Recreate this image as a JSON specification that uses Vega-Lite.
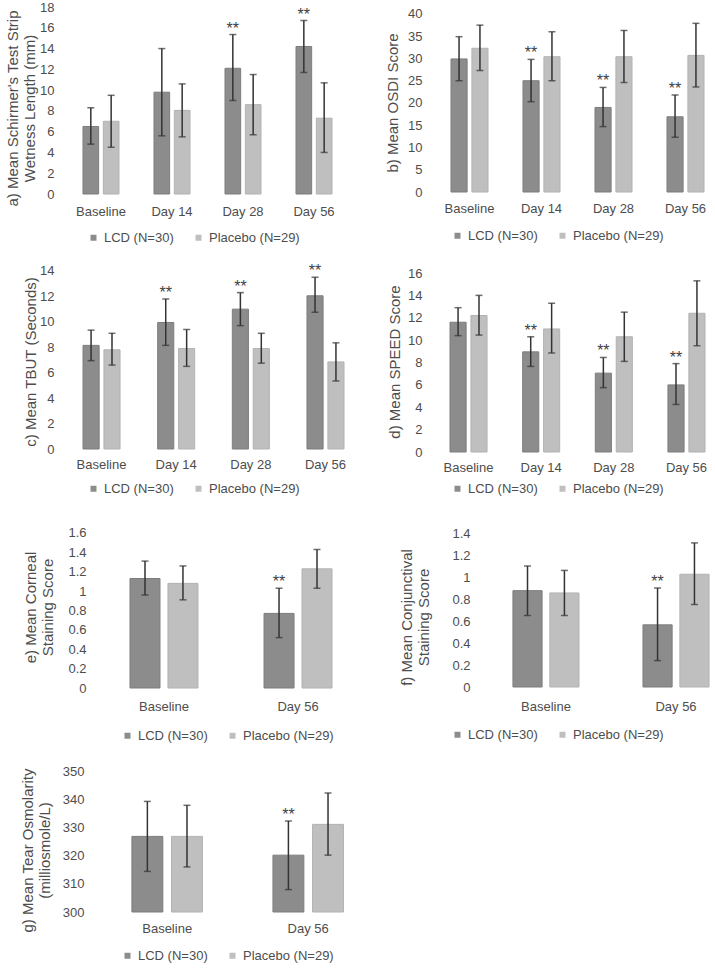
{
  "$schema": "https://vega.github.io/schema/vega-lite/v6.json",
  "padding": {"left": 5, "top": 0, "right": 0, "bottom": 0},
  "background": "white",
  "datasets": {
    "a": [
      {"t": "Baseline", "g": "LCD (N=30)", "m": 6.5, "lo": 4.8, "hi": 8.3, "sig": ""},
      {"t": "Baseline", "g": "Placebo (N=29)", "m": 7.0, "lo": 4.5, "hi": 9.5, "sig": ""},
      {"t": "Day 14", "g": "LCD (N=30)", "m": 9.8, "lo": 5.6, "hi": 14.0, "sig": ""},
      {"t": "Day 14", "g": "Placebo (N=29)", "m": 8.05, "lo": 5.5, "hi": 10.6, "sig": ""},
      {"t": "Day 28", "g": "LCD (N=30)", "m": 12.1, "lo": 9.0, "hi": 15.35, "sig": "**"},
      {"t": "Day 28", "g": "Placebo (N=29)", "m": 8.6, "lo": 5.7, "hi": 11.5, "sig": ""},
      {"t": "Day 56", "g": "LCD (N=30)", "m": 14.2, "lo": 11.7, "hi": 16.7, "sig": "**"},
      {"t": "Day 56", "g": "Placebo (N=29)", "m": 7.3, "lo": 4.0, "hi": 10.7, "sig": ""}
    ],
    "b": [
      {"t": "Baseline", "g": "LCD (N=30)", "m": 29.9, "lo": 25.0, "hi": 34.9, "sig": ""},
      {"t": "Baseline", "g": "Placebo (N=29)", "m": 32.3, "lo": 27.3, "hi": 37.5, "sig": ""},
      {"t": "Day 14", "g": "LCD (N=30)", "m": 25.0, "lo": 20.3, "hi": 29.8, "sig": "**"},
      {"t": "Day 14", "g": "Placebo (N=29)", "m": 30.4, "lo": 25.0, "hi": 36.0, "sig": ""},
      {"t": "Day 28", "g": "LCD (N=30)", "m": 19.0, "lo": 14.7, "hi": 23.5, "sig": "**"},
      {"t": "Day 28", "g": "Placebo (N=29)", "m": 30.4, "lo": 24.6, "hi": 36.3, "sig": ""},
      {"t": "Day 56", "g": "LCD (N=30)", "m": 16.9, "lo": 12.3, "hi": 21.8, "sig": "**"},
      {"t": "Day 56", "g": "Placebo (N=29)", "m": 30.7, "lo": 23.6, "hi": 37.9, "sig": ""}
    ],
    "c": [
      {"t": "Baseline", "g": "LCD (N=30)", "m": 8.15, "lo": 6.95, "hi": 9.35, "sig": ""},
      {"t": "Baseline", "g": "Placebo (N=29)", "m": 7.8, "lo": 6.6, "hi": 9.1, "sig": ""},
      {"t": "Day 14", "g": "LCD (N=30)", "m": 9.95, "lo": 8.15, "hi": 11.8, "sig": "**"},
      {"t": "Day 14", "g": "Placebo (N=29)", "m": 7.9, "lo": 6.5, "hi": 9.4, "sig": ""},
      {"t": "Day 28", "g": "LCD (N=30)", "m": 11.0, "lo": 9.7, "hi": 12.3, "sig": "**"},
      {"t": "Day 28", "g": "Placebo (N=29)", "m": 7.9, "lo": 6.75, "hi": 9.1, "sig": ""},
      {"t": "Day 56", "g": "LCD (N=30)", "m": 12.05, "lo": 10.75, "hi": 13.5, "sig": "**"},
      {"t": "Day 56", "g": "Placebo (N=29)", "m": 6.85, "lo": 5.35, "hi": 8.35, "sig": ""}
    ],
    "d": [
      {"t": "Baseline", "g": "LCD (N=30)", "m": 11.6, "lo": 10.4, "hi": 12.9, "sig": ""},
      {"t": "Baseline", "g": "Placebo (N=29)", "m": 12.2, "lo": 10.45, "hi": 14.0, "sig": ""},
      {"t": "Day 14", "g": "LCD (N=30)", "m": 8.95, "lo": 7.65, "hi": 10.3, "sig": "**"},
      {"t": "Day 14", "g": "Placebo (N=29)", "m": 11.0, "lo": 8.85, "hi": 13.3, "sig": ""},
      {"t": "Day 28", "g": "LCD (N=30)", "m": 7.05, "lo": 5.75, "hi": 8.45, "sig": "**"},
      {"t": "Day 28", "g": "Placebo (N=29)", "m": 10.3, "lo": 8.1, "hi": 12.5, "sig": ""},
      {"t": "Day 56", "g": "LCD (N=30)", "m": 6.0, "lo": 4.25, "hi": 7.9, "sig": "**"},
      {"t": "Day 56", "g": "Placebo (N=29)", "m": 12.4, "lo": 9.5, "hi": 15.3, "sig": ""}
    ],
    "e": [
      {"t": "Baseline", "g": "LCD (N=30)", "m": 1.13, "lo": 0.96, "hi": 1.31, "sig": ""},
      {"t": "Baseline", "g": "Placebo (N=29)", "m": 1.08, "lo": 0.91, "hi": 1.26, "sig": ""},
      {"t": "Day 56", "g": "LCD (N=30)", "m": 0.77, "lo": 0.52, "hi": 1.03, "sig": "**"},
      {"t": "Day 56", "g": "Placebo (N=29)", "m": 1.23, "lo": 1.03, "hi": 1.43, "sig": ""}
    ],
    "f": [
      {"t": "Baseline", "g": "LCD (N=30)", "m": 0.876, "lo": 0.65, "hi": 1.1, "sig": ""},
      {"t": "Baseline", "g": "Placebo (N=29)", "m": 0.855, "lo": 0.65, "hi": 1.06, "sig": ""},
      {"t": "Day 56", "g": "LCD (N=30)", "m": 0.565, "lo": 0.24, "hi": 0.9, "sig": "**"},
      {"t": "Day 56", "g": "Placebo (N=29)", "m": 1.025, "lo": 0.75, "hi": 1.31, "sig": ""}
    ],
    "g": [
      {"t": "Baseline", "g": "LCD (N=30)", "m": 327.0, "lo": 314.5, "hi": 339.5, "sig": ""},
      {"t": "Baseline", "g": "Placebo (N=29)", "m": 327.0, "lo": 316.1, "hi": 338.1, "sig": ""},
      {"t": "Day 56", "g": "LCD (N=30)", "m": 320.3, "lo": 308.0, "hi": 332.5, "sig": "**"},
      {"t": "Day 56", "g": "Placebo (N=29)", "m": 331.3, "lo": 320.3, "hi": 342.5, "sig": ""}
    ]
  },
  "resolve": {"scale": {"color": "independent", "stroke": "independent", "xOffset": "independent"}, "legend": {"color": "independent"}},
  "spacing": 39,
  "hconcat": [
    {
      "spacing": 12,
      "resolve": {"scale": {"color": "independent", "stroke": "independent", "xOffset": "independent"}, "legend": {"color": "independent"}},
      "vconcat": [
        {
          "width": 276, "height": 194,
          "data": {"name": "a"},
          "encoding": {
            "x": {"field": "t", "type": "nominal", "sort": ["Baseline", "Day 14", "Day 28", "Day 56"], "scale": {"paddingInner": 0.493, "paddingOuter": 0.19, "align": 0.926}, "axis": {"title": null, "labelAngle": 0, "labelPadding": 11}},
            "xOffset": {"field": "g", "type": "nominal", "scale": {"paddingInner": 0.23}}
          },
          "layer": [
            {"mark": {"type": "bar", "strokeWidth": 1}, "encoding": {
              "y": {"field": "m", "type": "quantitative", "title": ["a) Mean Schirmer's Test Strip", "Wetness Length (mm)"], "scale": {"domain": [0, 18.674], "nice": false}, "axis": {"values": [0, 2, 4, 6, 8, 10, 12, 14, 16, 18], "format": "d", "tickCount": 30, "labelOverlap": false, "titlePadding": 2, "titleY": 108}},
              "color": {"field": "g", "type": "nominal", "scale": {"range": ["#8c8c8c", "#bfbfbf"]}, "legend": {"title": null, "orient": "none", "direction": "horizontal", "legendX": 29, "legendY": 231}},
              "stroke": {"field": "g", "type": "nominal", "scale": {"range": ["#7d7d7d", "#b2b2b2"]}, "legend": null}}},
            {"mark": {"type": "rule", "color": "#333333", "strokeWidth": 1.5}, "encoding": {"y": {"field": "lo", "type": "quantitative", "title": ["a) Mean Schirmer's Test Strip", "Wetness Length (mm)"], "scale": {"domain": [0, 18.674], "nice": false}}, "y2": {"field": "hi"}}},
            {"mark": {"type": "tick", "color": "#333333", "thickness": 1.5, "size": 7}, "encoding": {"y": {"field": "lo", "type": "quantitative", "title": ["a) Mean Schirmer's Test Strip", "Wetness Length (mm)"], "scale": {"domain": [0, 18.674], "nice": false}}}},
            {"mark": {"type": "tick", "color": "#333333", "thickness": 1.5, "size": 7}, "encoding": {"y": {"field": "hi", "type": "quantitative", "title": ["a) Mean Schirmer's Test Strip", "Wetness Length (mm)"], "scale": {"domain": [0, 18.674], "nice": false}}}},
            {"mark": {"type": "text", "dy": -1, "baseline": "alphabetic", "fontSize": 16, "color": "#404040"}, "encoding": {"y": {"field": "hi", "type": "quantitative", "title": ["a) Mean Schirmer's Test Strip", "Wetness Length (mm)"], "scale": {"domain": [0, 18.674], "nice": false}}, "text": {"field": "sig"}}}
          ]
        },
        {
          "width": 288, "height": 192,
          "data": {"name": "c"},
          "encoding": {
            "x": {"field": "t", "type": "nominal", "sort": ["Baseline", "Day 14", "Day 28", "Day 56"], "scale": {"paddingInner": 0.504, "paddingOuter": 0.181, "align": 0.926}, "axis": {"title": null, "labelAngle": 0, "labelPadding": 9}},
            "xOffset": {"field": "g", "type": "nominal", "scale": {"paddingInner": 0.23}}
          },
          "layer": [
            {"mark": {"type": "bar", "strokeWidth": 1}, "encoding": {
              "y": {"field": "m", "type": "quantitative", "title": "c) Mean TBUT (Seconds)", "scale": {"domain": [0, 15.101], "nice": false}, "axis": {"values": [0, 2, 4, 6, 8, 10, 12, 14], "format": "d", "tickCount": 30, "labelOverlap": false, "titlePadding": 1, "titleY": 104.5}},
              "color": {"field": "g", "type": "nominal", "scale": {"range": ["#8c8c8c", "#bfbfbf"]}, "legend": {"title": null, "orient": "none", "direction": "horizontal", "legendX": 29, "legendY": 225}},
              "stroke": {"field": "g", "type": "nominal", "scale": {"range": ["#7d7d7d", "#b2b2b2"]}, "legend": null}}},
            {"mark": {"type": "rule", "color": "#333333", "strokeWidth": 1.5}, "encoding": {"y": {"field": "lo", "type": "quantitative", "title": "c) Mean TBUT (Seconds)", "scale": {"domain": [0, 15.101], "nice": false}}, "y2": {"field": "hi"}}},
            {"mark": {"type": "tick", "color": "#333333", "thickness": 1.5, "size": 7}, "encoding": {"y": {"field": "lo", "type": "quantitative", "title": "c) Mean TBUT (Seconds)", "scale": {"domain": [0, 15.101], "nice": false}}}},
            {"mark": {"type": "tick", "color": "#333333", "thickness": 1.5, "size": 7}, "encoding": {"y": {"field": "hi", "type": "quantitative", "title": "c) Mean TBUT (Seconds)", "scale": {"domain": [0, 15.101], "nice": false}}}},
            {"mark": {"type": "text", "dy": -1, "baseline": "alphabetic", "fontSize": 16, "color": "#404040"}, "encoding": {"y": {"field": "hi", "type": "quantitative", "title": "c) Mean TBUT (Seconds)", "scale": {"domain": [0, 15.101], "nice": false}}, "text": {"field": "sig"}}}
          ]
        },
        {
          "width": 276, "height": 180,
          "data": {"name": "e"},
          "encoding": {
            "x": {"field": "t", "type": "nominal", "sort": ["Baseline", "Day 56"], "scale": {"paddingInner": 0.493, "paddingOuter": 0.276, "align": 0.973}, "axis": {"title": null, "labelAngle": 0, "labelPadding": 12}},
            "xOffset": {"field": "g", "type": "nominal", "scale": {"paddingInner": 0.21}}
          },
          "layer": [
            {"mark": {"type": "bar", "strokeWidth": 1}, "encoding": {
              "y": {"field": "m", "type": "quantitative", "title": ["e) Mean Corneal", "Staining Score"], "scale": {"domain": [0, 1.858], "nice": false}, "axis": {"values": [0, 0.2, 0.4, 0.6, 0.8, 1, 1.2, 1.4, 1.6], "tickCount": 30, "labelOverlap": false, "format": ".1~f", "offset": -32, "titlePadding": 12, "titleY": 99}},
              "color": {"field": "g", "type": "nominal", "scale": {"range": ["#8c8c8c", "#bfbfbf"]}, "legend": {"title": null, "orient": "none", "direction": "horizontal", "legendX": 63, "legendY": 221}},
              "stroke": {"field": "g", "type": "nominal", "scale": {"range": ["#7d7d7d", "#b2b2b2"]}, "legend": null}}},
            {"mark": {"type": "rule", "color": "#333333", "strokeWidth": 1.5}, "encoding": {"y": {"field": "lo", "type": "quantitative", "title": ["e) Mean Corneal", "Staining Score"], "scale": {"domain": [0, 1.858], "nice": false}}, "y2": {"field": "hi"}}},
            {"mark": {"type": "tick", "color": "#333333", "thickness": 1.5, "size": 7}, "encoding": {"y": {"field": "lo", "type": "quantitative", "title": ["e) Mean Corneal", "Staining Score"], "scale": {"domain": [0, 1.858], "nice": false}}}},
            {"mark": {"type": "tick", "color": "#333333", "thickness": 1.5, "size": 7}, "encoding": {"y": {"field": "hi", "type": "quantitative", "title": ["e) Mean Corneal", "Staining Score"], "scale": {"domain": [0, 1.858], "nice": false}}}},
            {"mark": {"type": "text", "dy": -1, "baseline": "alphabetic", "fontSize": 16, "color": "#404040"}, "encoding": {"y": {"field": "hi", "type": "quantitative", "title": ["e) Mean Corneal", "Staining Score"], "scale": {"domain": [0, 1.858], "nice": false}}, "text": {"field": "sig"}}}
          ]
        },
        {
          "width": 288, "height": 157,
          "data": {"name": "g"},
          "encoding": {
            "x": {"field": "t", "type": "nominal", "sort": ["Baseline", "Day 56"], "scale": {"paddingInner": 0.5, "paddingOuter": 0.271, "align": 0.967}, "axis": {"title": null, "labelAngle": 0, "labelPadding": 10}},
            "xOffset": {"field": "g", "type": "nominal", "scale": {"paddingInner": 0.22}}
          },
          "layer": [
            {"mark": {"type": "bar", "strokeWidth": 1}, "encoding": {
              "y": {"field": "m", "type": "quantitative", "title": ["g) Mean Tear Osmolarity", "(milliosmole/L)"], "scale": {"domain": [300, 356.07], "nice": false, "zero": false}, "axis": {"values": [300, 310, 320, 330, 340, 350], "format": "d", "tickCount": 30, "labelOverlap": false, "offset": -30, "titlePadding": 10, "titleY": 95}},
              "y2": {"datum": 300},
              "color": {"field": "g", "type": "nominal", "scale": {"range": ["#8c8c8c", "#bfbfbf"]}, "legend": {"title": null, "orient": "none", "direction": "horizontal", "legendX": 63, "legendY": 194}},
              "stroke": {"field": "g", "type": "nominal", "scale": {"range": ["#7d7d7d", "#b2b2b2"]}, "legend": null}}},
            {"mark": {"type": "rule", "color": "#333333", "strokeWidth": 1.5}, "encoding": {"y": {"field": "lo", "type": "quantitative", "title": ["g) Mean Tear Osmolarity", "(milliosmole/L)"], "scale": {"domain": [300, 356.07], "nice": false, "zero": false}}, "y2": {"field": "hi"}}},
            {"mark": {"type": "tick", "color": "#333333", "thickness": 1.5, "size": 7}, "encoding": {"y": {"field": "lo", "type": "quantitative", "title": ["g) Mean Tear Osmolarity", "(milliosmole/L)"], "scale": {"domain": [300, 356.07], "nice": false, "zero": false}}}},
            {"mark": {"type": "tick", "color": "#333333", "thickness": 1.5, "size": 7}, "encoding": {"y": {"field": "hi", "type": "quantitative", "title": ["g) Mean Tear Osmolarity", "(milliosmole/L)"], "scale": {"domain": [300, 356.07], "nice": false, "zero": false}}}},
            {"mark": {"type": "text", "dy": -1, "baseline": "alphabetic", "fontSize": 16, "color": "#404040"}, "encoding": {"y": {"field": "hi", "type": "quantitative", "title": ["g) Mean Tear Osmolarity", "(milliosmole/L)"], "scale": {"domain": [300, 356.07], "nice": false, "zero": false}}, "text": {"field": "sig"}}}
          ]
        }
      ]
    },
    {
      "spacing": 12,
      "resolve": {"scale": {"color": "independent", "stroke": "independent", "xOffset": "independent"}, "legend": {"color": "independent"}},
      "vconcat": [
        {
          "width": 280, "height": 192,
          "data": {"name": "b"},
          "encoding": {
            "x": {"field": "t", "type": "nominal", "sort": ["Baseline", "Day 14", "Day 28", "Day 56"], "scale": {"paddingInner": 0.486, "paddingOuter": 0.1875, "align": 0.926}, "axis": {"title": null, "labelAngle": 0, "labelPadding": 10}},
            "xOffset": {"field": "g", "type": "nominal", "scale": {"paddingInner": 0.23}}
          },
          "layer": [
            {"mark": {"type": "bar", "strokeWidth": 1}, "encoding": {
              "y": {"field": "m", "type": "quantitative", "title": "b) Mean OSDI Score", "scale": {"domain": [0, 43.146], "nice": false}, "axis": {"values": [0, 5, 10, 15, 20, 25, 30, 35, 40], "format": "d", "tickCount": 30, "labelOverlap": false, "titlePadding": 7, "titleY": 102.5}},
              "color": {"field": "g", "type": "nominal", "scale": {"range": ["#8c8c8c", "#bfbfbf"]}, "legend": {"title": null, "orient": "none", "direction": "horizontal", "legendX": 25, "legendY": 229}},
              "stroke": {"field": "g", "type": "nominal", "scale": {"range": ["#7d7d7d", "#b2b2b2"]}, "legend": null}}},
            {"mark": {"type": "rule", "color": "#333333", "strokeWidth": 1.5}, "encoding": {"y": {"field": "lo", "type": "quantitative", "title": "b) Mean OSDI Score", "scale": {"domain": [0, 43.146], "nice": false}}, "y2": {"field": "hi"}}},
            {"mark": {"type": "tick", "color": "#333333", "thickness": 1.5, "size": 7}, "encoding": {"y": {"field": "lo", "type": "quantitative", "title": "b) Mean OSDI Score", "scale": {"domain": [0, 43.146], "nice": false}}}},
            {"mark": {"type": "tick", "color": "#333333", "thickness": 1.5, "size": 7}, "encoding": {"y": {"field": "hi", "type": "quantitative", "title": "b) Mean OSDI Score", "scale": {"domain": [0, 43.146], "nice": false}}}},
            {"mark": {"type": "text", "dy": -1, "baseline": "alphabetic", "fontSize": 16, "color": "#404040"}, "encoding": {"y": {"field": "hi", "type": "quantitative", "title": "b) Mean OSDI Score", "scale": {"domain": [0, 43.146], "nice": false}}, "text": {"field": "sig"}}}
          ]
        },
        {
          "width": 281, "height": 197,
          "data": {"name": "d"},
          "encoding": {
            "x": {"field": "t", "type": "nominal", "sort": ["Baseline", "Day 14", "Day 28", "Day 56"], "scale": {"paddingInner": 0.49, "paddingOuter": 0.179, "align": 0.923}, "axis": {"title": null, "labelAngle": 0, "labelPadding": 9}},
            "xOffset": {"field": "g", "type": "nominal", "scale": {"paddingInner": 0.23}}
          },
          "layer": [
            {"mark": {"type": "bar", "strokeWidth": 1}, "encoding": {
              "y": {"field": "m", "type": "quantitative", "title": "d) Mean SPEED Score", "scale": {"domain": [0, 17.609], "nice": false}, "axis": {"values": [0, 2, 4, 6, 8, 10, 12, 14, 16], "format": "d", "tickCount": 30, "labelOverlap": false, "titlePadding": 5, "titleY": 106.5}},
              "color": {"field": "g", "type": "nominal", "scale": {"range": ["#8c8c8c", "#bfbfbf"]}, "legend": {"title": null, "orient": "none", "direction": "horizontal", "legendX": 25, "legendY": 227}},
              "stroke": {"field": "g", "type": "nominal", "scale": {"range": ["#7d7d7d", "#b2b2b2"]}, "legend": null}}},
            {"mark": {"type": "rule", "color": "#333333", "strokeWidth": 1.5}, "encoding": {"y": {"field": "lo", "type": "quantitative", "title": "d) Mean SPEED Score", "scale": {"domain": [0, 17.609], "nice": false}}, "y2": {"field": "hi"}}},
            {"mark": {"type": "tick", "color": "#333333", "thickness": 1.5, "size": 7}, "encoding": {"y": {"field": "lo", "type": "quantitative", "title": "d) Mean SPEED Score", "scale": {"domain": [0, 17.609], "nice": false}}}},
            {"mark": {"type": "tick", "color": "#333333", "thickness": 1.5, "size": 7}, "encoding": {"y": {"field": "hi", "type": "quantitative", "title": "d) Mean SPEED Score", "scale": {"domain": [0, 17.609], "nice": false}}}},
            {"mark": {"type": "text", "dy": -1, "baseline": "alphabetic", "fontSize": 16, "color": "#404040"}, "encoding": {"y": {"field": "hi", "type": "quantitative", "title": "d) Mean SPEED Score", "scale": {"domain": [0, 17.609], "nice": false}}, "text": {"field": "sig"}}}
          ]
        },
        {
          "width": 284, "height": 179,
          "data": {"name": "f"},
          "encoding": {
            "x": {"field": "t", "type": "nominal", "sort": ["Baseline", "Day 56"], "scale": {"paddingInner": 0.492, "paddingOuter": 0.338, "align": 0.989}, "axis": {"title": null, "labelAngle": 0, "labelPadding": 13}},
            "xOffset": {"field": "g", "type": "nominal", "scale": {"paddingInner": 0.21}}
          },
          "layer": [
            {"mark": {"type": "bar", "strokeWidth": 1}, "encoding": {
              "y": {"field": "m", "type": "quantitative", "title": ["f) Mean Conjunctival", "Staining Score"], "scale": {"domain": [0, 1.6273], "nice": false}, "axis": {"values": [0, 0.2, 0.4, 0.6, 0.8, 1, 1.2, 1.4], "tickCount": 30, "labelOverlap": false, "format": ".1~f", "offset": -48, "titlePadding": 20, "titleY": 109}},
              "color": {"field": "g", "type": "nominal", "scale": {"range": ["#8c8c8c", "#bfbfbf"]}, "legend": {"title": null, "orient": "none", "direction": "horizontal", "legendX": 25, "legendY": 220}},
              "stroke": {"field": "g", "type": "nominal", "scale": {"range": ["#7d7d7d", "#b2b2b2"]}, "legend": null}}},
            {"mark": {"type": "rule", "color": "#333333", "strokeWidth": 1.5}, "encoding": {"y": {"field": "lo", "type": "quantitative", "title": ["f) Mean Conjunctival", "Staining Score"], "scale": {"domain": [0, 1.6273], "nice": false}}, "y2": {"field": "hi"}}},
            {"mark": {"type": "tick", "color": "#333333", "thickness": 1.5, "size": 7}, "encoding": {"y": {"field": "lo", "type": "quantitative", "title": ["f) Mean Conjunctival", "Staining Score"], "scale": {"domain": [0, 1.6273], "nice": false}}}},
            {"mark": {"type": "tick", "color": "#333333", "thickness": 1.5, "size": 7}, "encoding": {"y": {"field": "hi", "type": "quantitative", "title": ["f) Mean Conjunctival", "Staining Score"], "scale": {"domain": [0, 1.6273], "nice": false}}}},
            {"mark": {"type": "text", "dy": -1, "baseline": "alphabetic", "fontSize": 16, "color": "#404040"}, "encoding": {"y": {"field": "hi", "type": "quantitative", "title": ["f) Mean Conjunctival", "Staining Score"], "scale": {"domain": [0, 1.6273], "nice": false}}, "text": {"field": "sig"}}}
          ]
        }
      ]
    }
  ],
  "config": {
    "view": {"stroke": null},
    "font": "Liberation Sans",
    "axis": {"labelFont": "Liberation Sans", "labelFontSize": 13, "labelColor": "#4d4d4d", "labelOverlap": false, "titleFont": "Liberation Sans", "titleFontSize": 15, "titleColor": "#4d4d4d", "titleFontWeight": "normal", "grid": false, "domain": false, "ticks": false},
    "axisY": {"labelPadding": 4},
    "legend": {"labelFont": "Liberation Sans", "labelFontSize": 13, "labelColor": "#4d4d4d", "symbolType": "square", "symbolSize": 36, "symbolStrokeWidth": 0, "labelOffset": 4, "columnPadding": 18, "padding": 0}
  }
}
